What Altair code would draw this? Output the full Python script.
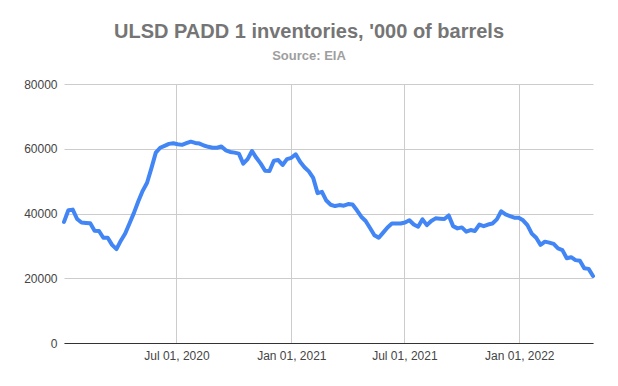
import altair as alt
import pandas as pd

# Weekly EIA data (Fridays), first week and number of weeks
first_week = "2020-01-03"
inventories = [
    37400, 41000, 41200, 38300, 37200, 37100, 37000, 34700, 34600, 32500,
    32500, 30300, 29000, 31600, 33800, 37000, 40200, 43800, 47000, 49500,
    54000, 58800, 60300, 60900, 61500, 61700, 61400, 61200, 61700, 62200,
    61800, 61600, 61000, 60600, 60300, 60300, 60700, 59500, 59000, 58800,
    58500, 55400, 56800, 59300, 57200, 55400, 53200, 53100, 56300, 56500,
    55000, 56800, 57200, 58300, 56000, 54300, 53000, 51000, 46300, 46700,
    44000, 42700, 42300, 42600, 42400, 42900, 42800, 41000, 39000, 37700,
    35500, 33300, 32500, 34100, 35700, 36900, 36900, 36900, 37200, 37900,
    36600, 35900, 38200, 36400, 37700, 38500, 38400, 38300, 39400, 36100,
    35400, 35700, 34400, 34900, 34600, 36600, 36100, 36600, 36900, 38200,
    40700, 39700, 39200, 38700, 38700, 37900, 36400, 33800, 32500, 30300,
    31300, 31000, 30600, 29200, 28700, 26200, 26500, 25600, 25400, 23100,
    22900, 20700,
]
x_ticks = ["2020-07-01", "2021-01-01", "2021-07-01", "2022-01-01"]
y_ticks = [0, 20000, 40000, 60000, 80000]

title_text = "ULSD PADD 1 inventories, '000 of barrels"
subtitle_text = "Source: EIA"

dates = pd.date_range(first_week, periods=len(inventories), freq="7D")
df = pd.DataFrame({"date": dates.strftime("%Y-%m-%d"), "value": inventories})

tick_dt = [
    alt.DateTime(year=int(d[:4]), month=int(d[5:7]), date=int(d[8:]), utc=True)
    for d in x_ticks
]

FONT = "Liberation Sans"

chart = (
    alt.Chart(df)
    .mark_line(color="#4285F4", strokeWidth=4, strokeJoin="round", strokeCap="round")
    .encode(
        x=alt.X(
            "date:T",
            scale=alt.Scale(type="utc", nice=False),
            axis=alt.Axis(
                title=None,
                values=tick_dt,
                format="%b %d, %Y",
                labelFont=FONT,
                labelFontSize=12,
                labelColor="#444444",
                labelPadding=7,
                ticks=False,
                grid=True,
                gridColor="#cccccc",
                domain=True,
                domainColor="#333333",
                domainWidth=1,
                labelFlush=False,
            ),
        ),
        y=alt.Y(
            "value:Q",
            scale=alt.Scale(domain=[0, 80000], nice=False),
            axis=alt.Axis(
                title=None,
                values=y_ticks,
                format="d",
                labelFont=FONT,
                labelFontSize=12,
                labelColor="#444444",
                labelPadding=7,
                ticks=False,
                domain=False,
                grid=True,
                gridColor="#cccccc",
            ),
        ),
    )
    .properties(
        width=529,
        height=259,
        autosize=alt.AutoSizeParams(type="none"),
        padding={"left": 56, "top": 76, "right": 17, "bottom": 35},
        title=alt.TitleParams(
            text=title_text,
            subtitle=subtitle_text,
            anchor="middle",
            dx=-19.5,
            offset=15,
            font=FONT,
            fontSize=20,
            fontWeight="bold",
            color="#757575",
            subtitleFont=FONT,
            subtitleFontSize=13,
            subtitleFontWeight="bold",
            subtitleColor="#9e9e9e",
            subtitlePadding=8,
        ),
        background="white",
    )
    .configure_view(stroke=None)
)

chart.save("out.html", embed_options={"renderer": "svg", "actions": False})
